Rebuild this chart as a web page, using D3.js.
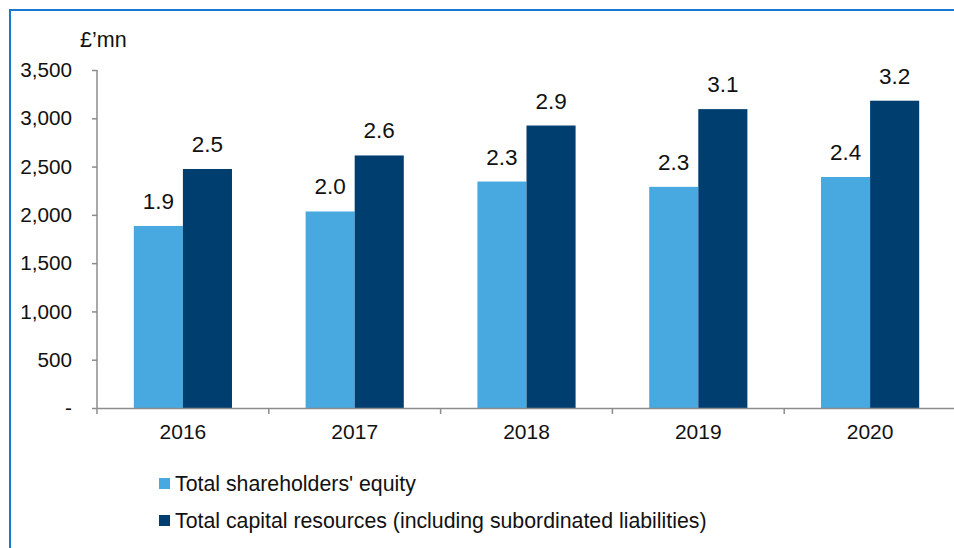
<!DOCTYPE html>
<html>
<head>
<meta charset="utf-8">
<script src="https://cdn.jsdelivr.net/npm/d3@7"></script>
<style>
  body { margin: 0; background: #fff; }
  svg { display: block; font-family: Arial, "Liberation Sans", sans-serif; }
</style>
</head>
<body>
<div id="chart"></div>
<script>
// =========================
// DATA
// =========================
const years = ["2016", "2017", "2018", "2019", "2020"];
const seriesNames = ["Total shareholders' equity", "Total capital resources (including subordinated liabilities)"];
const equity = [1885, 2035, 2345, 2290, 2392];
const capital = [2475, 2615, 2925, 3095, 3182];
const equityLabels = ["1.9", "2.0", "2.3", "2.3", "2.4"];
const capitalLabels = ["2.5", "2.6", "2.9", "3.1", "3.2"];
const yTicks = [0, 500, 1000, 1500, 2000, 2500, 3000, 3500];

// =========================
// SETUP
// =========================
const width = 954;
const height = 548;
const colors = ["#47a9df", "#003e70"];
const axisColor = "#8c8c8c";
const font = "Arial, 'Liberation Sans', sans-serif";

const svg = d3.select("#chart")
    .append("svg")
    .attr("width", width)
    .attr("height", height);

// frame (only top and left edges visible)
svg.append("rect")
    .attr("x", 10)
    .attr("y", 10)
    .attr("width", width + 20)
    .attr("height", height + 20)
    .attr("fill", "none")
    .attr("stroke", "#1a78d2")
    .attr("stroke-width", 2);

const plotLeft = 97;
const plotTop = 70;
const plotBottom = 408;
const step = 171.8;

const x = d3.scaleBand()
    .domain(years)
    .range([plotLeft, plotLeft + step * years.length])
    .paddingInner(0)
    .paddingOuter(0);

const groupWidth = x.bandwidth() / 1.75;  // 75% gap

const xSub = d3.scaleBand()
    .domain([0, 1])
    .range([0, groupWidth]);

const y = d3.scaleLinear()
    .domain([0, 3500])
    .range([plotBottom, plotTop]);

// =========================
// BARS
// =========================
const rows = years.map((yr, i) => ({
    year: yr,
    values: [
        { s: 0, v: equity[i], label: equityLabels[i] },
        { s: 1, v: capital[i], label: capitalLabels[i] }
    ]
}));

const groups = svg.append("g")
    .selectAll("g")
    .data(rows)
    .join("g")
    .attr("transform", d => `translate(${x(d.year) + (x.bandwidth() - groupWidth) / 2},0)`);

groups.selectAll("rect")
    .data(d => d.values)
    .join("rect")
    .attr("x", d => xSub(d.s))
    .attr("y", d => y(d.v))
    .attr("width", xSub.bandwidth())
    .attr("height", d => y(0) - y(d.v))
    .attr("fill", d => colors[d.s]);

groups.selectAll("text")
    .data(d => d.values)
    .join("text")
    .attr("x", d => xSub(d.s) + xSub.bandwidth() / 2)
    .attr("y", d => y(d.v) - 17)
    .attr("text-anchor", "middle")
    .style("font-size", "22.5px")
    .style("fill", "#111")
    .text(d => d.label);

// =========================
// AXES
// =========================
const yAxis = svg.append("g")
    .attr("transform", `translate(${plotLeft},0)`)
    .call(d3.axisLeft(y)
        .tickValues(yTicks)
        .tickSize(5)
        .tickPadding(20)
        .tickFormat(d => d === 0 ? "-" : d3.format(",")(d)));

yAxis.select(".domain")
    .attr("d", `M0,${plotTop}V${plotBottom}`)
    .attr("stroke", axisColor)
    .attr("stroke-width", 1.5);
yAxis.selectAll(".tick line").attr("stroke", axisColor).attr("stroke-width", 1.5);
yAxis.selectAll(".tick text")
    .style("font-size", "20.7px")
    .style("font-family", font)
    .attr("fill", "#111");

const xAxis = svg.append("g")
    .attr("transform", `translate(0,${plotBottom})`)
    .call(d3.axisBottom(x).tickSize(0).tickPadding(16));

xAxis.select(".domain")
    .attr("stroke", axisColor)
    .attr("stroke-width", 1.5);
xAxis.selectAll(".tick text")
    .style("font-size", "21px")
    .style("font-family", font)
    .attr("fill", "#111");

// category boundary ticks
const boundaries = years.map(d => x(d)).concat([x.range()[1]]);
svg.append("g")
    .selectAll("line")
    .data(boundaries)
    .join("line")
    .attr("x1", d => d)
    .attr("x2", d => d)
    .attr("y1", plotBottom)
    .attr("y2", plotBottom + 6)
    .attr("stroke", axisColor)
    .attr("stroke-width", 1.5);

// unit label
svg.append("text")
    .attr("x", 80)
    .attr("y", 47)
    .style("font-size", "21.5px")
    .style("fill", "#111")
    .text("£’mn");

// =========================
// LEGEND
// =========================
const legend = svg.append("g")
    .attr("transform", "translate(159,478)");

const item = legend.selectAll("g")
    .data(seriesNames)
    .join("g")
    .attr("transform", (d, i) => `translate(0,${i * 37})`);

item.append("rect")
    .attr("width", 11)
    .attr("height", 11)
    .attr("fill", (d, i) => colors[i]);

item.append("text")
    .attr("x", 16)
    .attr("y", 12.5)
    .style("font-size", "21.3px")
    .style("fill", "#111")
    .text(d => d);
</script>
</body>
</html>
